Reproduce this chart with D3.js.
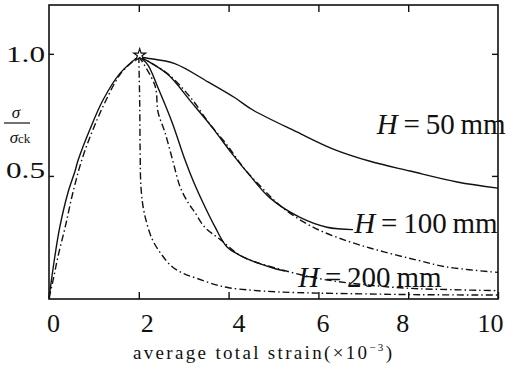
<!DOCTYPE html>
<html lang="en">
<head>
<meta charset="UTF-8">
<title>Stress-strain curves for H = 50, 100, 200 mm</title>
<style>
    body { margin: 0; background: #fff; }
    svg { display: block; }
    .curve { fill: none; stroke: #111; stroke-width: 1.4; stroke-linejoin: round; }
    .dashdot { stroke-dasharray: 7 3 1.5 3; }
    .tick line { stroke: #111; stroke-width: 1.4; }
    .domain { display: none; }
    text { font-family: "Liberation Serif", "DejaVu Serif", serif; fill: #111; }
</style>
</head>
<body>
<div id="chart"></div>
<script src="https://d3js.org/d3.v7.min.js"></script>
<script>
    // values: [strain x10^-3, sigma / sigma_ck]
    const riseSolid = [[0,0],[0.07,0.094],[0.13,0.17],[0.24,0.29],[0.42,0.43],[0.58,0.52],[0.65,0.565],[0.91,0.69],[1.2,0.81],[1.58,0.92],[2.0,0.99]];
    const riseDashDot = [[0,0],[0.1,0.08],[0.2,0.17],[0.36,0.29],[0.53,0.43],[0.73,0.565],[0.98,0.69],[1.27,0.81],[1.6,0.92],[2.0,0.99]];

    const h50Solid = [[2.0,0.99],[2.1,0.985],[2.8,0.96],[3.54,0.885],[4.14,0.82],[4.54,0.77],[5.52,0.68],[6.33,0.61],[7.15,0.56],[8.04,0.52],[9.09,0.475],[10,0.45]];
    const h100Solid = [[2.0,0.99],[2.2,0.97],[2.65,0.915],[3.18,0.8],[3.63,0.7],[4.08,0.59],[4.48,0.5],[4.92,0.41],[5.59,0.33],[6.19,0.29],[6.77,0.28]];
    const h100DashDot = [[2.0,0.99],[2.3,0.96],[2.7,0.91],[3.2,0.81],[3.55,0.72],[3.95,0.63],[4.35,0.53],[4.75,0.45],[5.2,0.37],[5.88,0.29],[6.7,0.23],[7.44,0.19],[8.2,0.155],[8.86,0.127],[10,0.105]];
    const h200Solid = [[2.0,0.99],[2.2,0.955],[2.43,0.86],[2.74,0.72],[3.03,0.565],[3.21,0.48],[3.43,0.39],[3.7,0.29],[3.96,0.21],[4.25,0.175],[4.63,0.145],[4.99,0.123],[5.26,0.11]];
    const h200DashDot = [[2.0,0.99],[2.36,0.87],[2.43,0.76],[2.58,0.68],[2.76,0.56],[2.92,0.455],[3.1,0.39],[3.25,0.35],[3.47,0.29],[3.81,0.24],[4.3,0.17],[5.0,0.125],[6.0,0.08],[7.0,0.055],[8.0,0.04],[9.0,0.034],[10,0.03]];
    const steepDashDot = [[2.0,0.99],[2.02,0.8],[2.03,0.6],[2.05,0.45],[2.12,0.35],[2.3,0.24],[2.5,0.18],[2.73,0.13],[3.0,0.1],[3.3,0.08],[3.7,0.055],[4.0,0.042],[4.5,0.032],[5.1,0.025],[6,0.02],[7,0.017],[8,0.014],[10,0.012]];

    const peak = [[2.02, 0.995]];

    const xTicks = [0, 2, 4, 6, 8, 10];
    const yTicks = [0.5, 1.0];
    const heights = ["50", "100", "200"];
    const labelAt = [[7.3, 0.67], [6.8, 0.265], [5.55, 0.045]];   // baseline-left of each H label

    const width = 506, height = 371;
    const plotLeft = 49, plotRight = 498, plotTop = 5, plotBottom = 298;

    const svg = d3.select("#chart").append("svg")
        .attr("width", width)
        .attr("height", height);

    const x = d3.scaleLinear().domain([0, 10]).range([plotLeft, plotRight]);
    const y = d3.scaleLinear().domain([0, 1.2]).range([plotBottom, plotTop]);

    const line = d3.line()
        .x(d => x(d[0]))
        .y(d => y(d[1]))
        .curve(d3.curveCatmullRom.alpha(0.5));

    // curves
    const curves = [
        { pts: riseSolid, dash: false },
        { pts: riseDashDot, dash: true },
        { pts: h50Solid, dash: false },
        { pts: h100Solid, dash: false },
        { pts: h100DashDot, dash: true },
        { pts: h200Solid, dash: false },
        { pts: h200DashDot, dash: true },
        { pts: steepDashDot, dash: true }
    ];

    svg.append("g").selectAll("path")
        .data(curves)
        .enter()
        .append("path")
        .attr("class", d => d.dash ? "curve dashdot" : "curve")
        .attr("d", d => line(d.pts));

    svg.selectAll(".peak")
        .data(peak)
        .enter()
        .append("path")
        .attr("class", "peak")
        .attr("transform", d => "translate(" + x(d[0]) + "," + y(d[1]) + ")")
        .attr("d", d3.symbol().type(d3.symbolStar).size(45))
        .attr("fill", "#fff")
        .attr("stroke", "#111")
        .attr("stroke-width", 1.2);

    // frame
    svg.append("rect")
        .attr("x", plotLeft)
        .attr("y", plotTop)
        .attr("width", plotRight - plotLeft)
        .attr("height", plotBottom + 1 - plotTop)
        .attr("fill", "none")
        .attr("stroke", "#111")
        .attr("stroke-width", 1.6);

    // ticks, all pointing inward
    const labelNudge = [4, 8, 10, 4, -6, -8];

    const xAxis = svg.append("g")
        .attr("transform", "translate(0," + (plotBottom + 1) + ")")
        .call(d3.axisBottom(x).tickValues(xTicks).tickSizeInner(-7).tickSizeOuter(0).tickPadding(15));
    xAxis.selectAll("text")
        .attr("font-size", 26)
        .attr("x", (d, i) => labelNudge[i]);

    svg.append("g")
        .attr("transform", "translate(0," + plotTop + ")")
        .call(d3.axisTop(x).tickValues(xTicks.slice(1, -1)).tickSizeInner(-7).tickSizeOuter(0).tickFormat(""));

    const yAxis = svg.append("g")
        .attr("transform", "translate(" + plotLeft + ",0)")
        .call(d3.axisLeft(y).tickValues(yTicks).tickSizeInner(-5).tickSizeOuter(0).tickPadding(4).tickFormat(d3.format(".1f")));
    yAxis.selectAll("text")
        .attr("font-size", 23)
        .attr("textLength", 39)
        .attr("lengthAdjust", "spacingAndGlyphs")
        .attr("dy", d => d < 1 ? "0.05em" : "0.32em");

    svg.append("g")
        .attr("transform", "translate(" + plotRight + ",0)")
        .call(d3.axisRight(y).tickValues(yTicks).tickSizeInner(-6).tickSizeOuter(0).tickFormat(""));

    // axis titles
    const xTitle = svg.append("text")
        .attr("x", 133)
        .attr("y", 359)
        .attr("font-size", 19)
        .attr("textLength", 259)
        .attr("lengthAdjust", "spacing");
    xTitle.append("tspan").text("average total strain(\u00d710");
    xTitle.append("tspan").attr("font-size", 11).attr("dy", -8).text("\u22123");
    xTitle.append("tspan").attr("dy", 8).text(")");

    svg.append("text")
        .attr("x", 16)
        .attr("y", 118)
        .attr("text-anchor", "middle")
        .attr("font-size", 17)
        .attr("font-style", "italic")
        .text("\u03c3");
    svg.append("line")
        .attr("x1", 4).attr("x2", 30)
        .attr("y1", 123).attr("y2", 123)
        .attr("stroke", "#111")
        .attr("stroke-width", 1.2);
    const den = svg.append("text")
        .attr("x", 20)
        .attr("y", 143)
        .attr("text-anchor", "middle")
        .attr("font-size", 17);
    den.append("tspan").attr("font-style", "italic").text("\u03c3");
    den.append("tspan").attr("font-size", 13).text("ck");

    // H labels
    heights.forEach((h, i) => {
        const t = svg.append("text")
            .attr("x", x(labelAt[i][0]))
            .attr("y", y(labelAt[i][1]))
            .attr("font-size", 29);
        t.append("tspan").attr("font-style", "italic").text("H");
        t.append("tspan").text("\u2009=\u2009" + h + "\u2009mm");
    });
</script>
</body>
</html>
